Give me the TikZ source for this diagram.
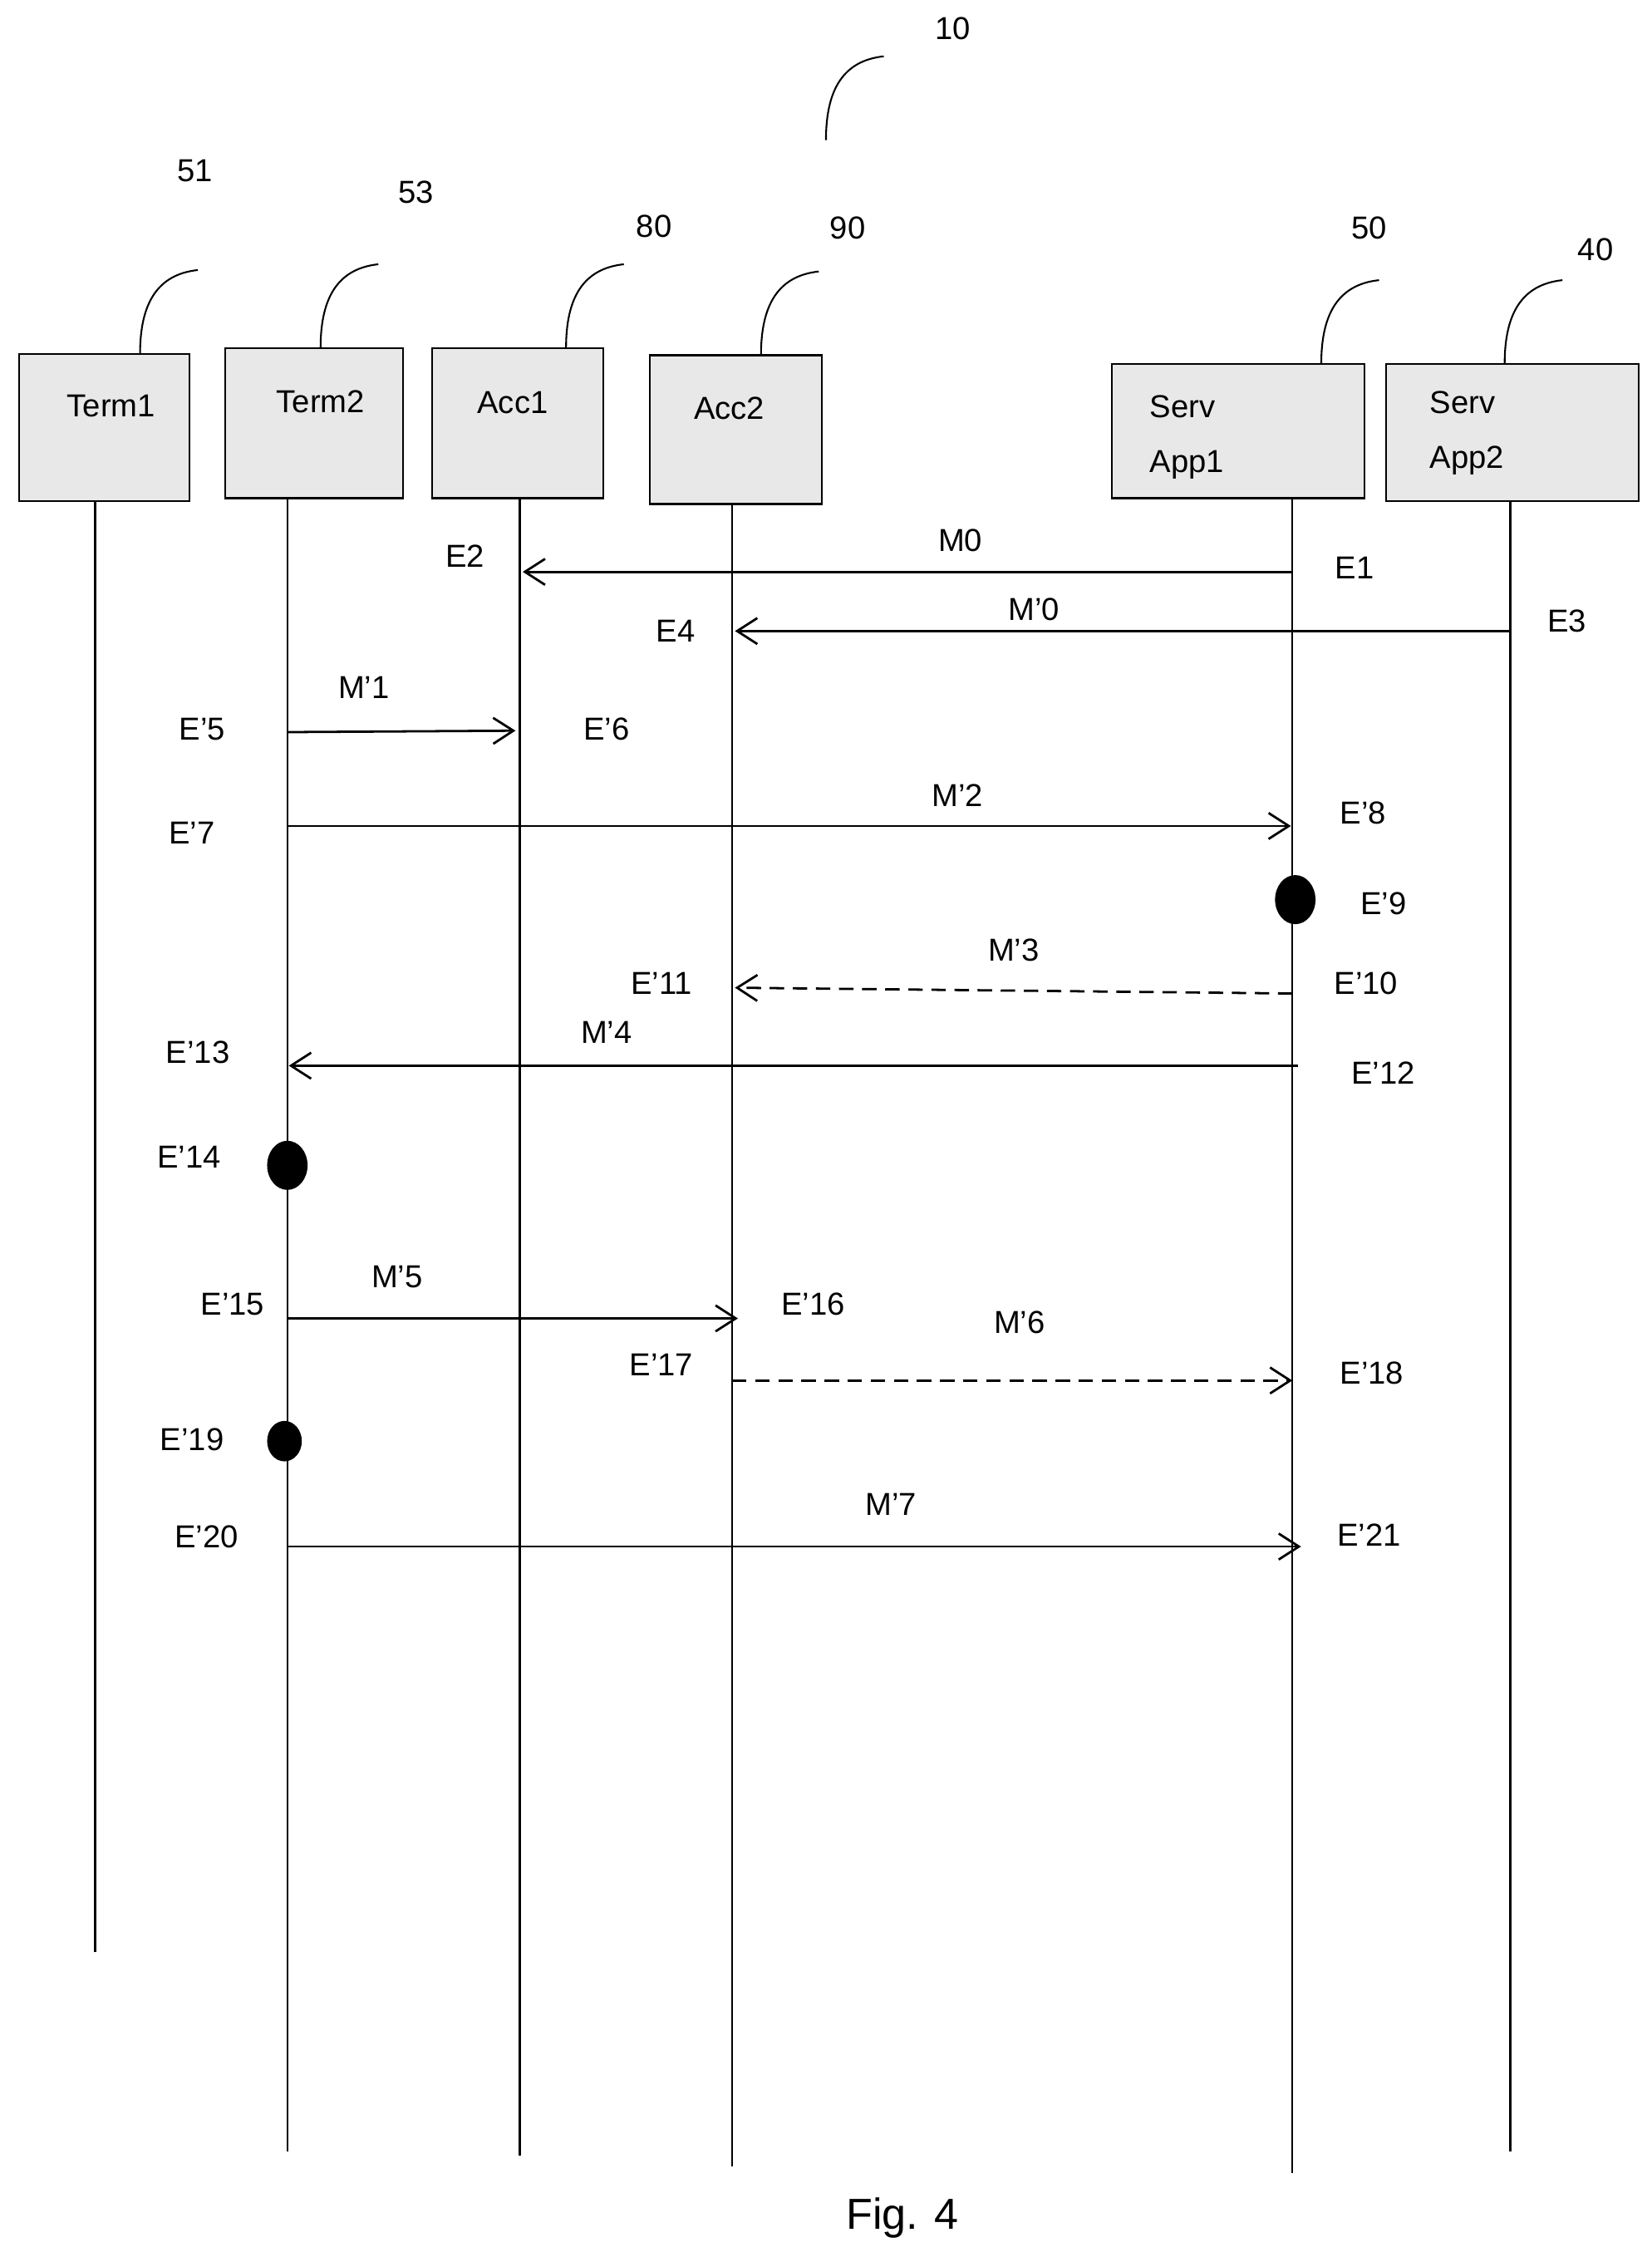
\documentclass[tikz,border=0pt]{standalone}
\usepackage{fontspec}
\setmainfont{Liberation Sans}
\usetikzlibrary{arrows.meta}
\begin{document}
\begin{tikzpicture}[x=0.5pt,y=-0.5pt,
  ent/.style={draw,fill=gray!18,line width=0.6pt},
  life/.style={line width=0.7pt},
  msg/.style={line width=0.8pt,-{Straight Barb[length=7pt,width=9pt]}},
  dmsg/.style={msg,dash pattern=on 5pt off 3pt},
  lbl/.style={font=\fontsize{11}{13}\selectfont,inner sep=0},
  lead/.style={line width=0.6pt},
  dot/.style={fill=black}]
\useasboundingbox (0,0) rectangle (1144,1563);
% boxes
\draw[ent] (13,245) rectangle (131,347); \node[lbl] (t1) at (77,281) {Term1};
\draw[ent] (156,241) rectangle (279,345); \node[lbl] (t2) at (222,278) {Term2};
\draw[ent] (299,241) rectangle (418,345); \node[lbl] (a1) at (355,279) {Acc1};
\draw[ent] (450,246) rectangle (569,349); \node[lbl] (a2) at (505,283) {Acc2};
\draw[ent] (770,252) rectangle (945,345); \node[lbl,align=left] (s1) at (822,303) {Serv\\[6pt]App1};
\draw[ent] (960,252) rectangle (1135,347); \node[lbl,align=left] (s2) at (1016,300) {Serv\\[6pt]App2};
% leaders and refs
\foreach \x/\y/\t/\lx/\ly in {97/245/51/135/118, 222/241/53/288/133, 392/241/80/453/157, 527/246/90/587/158, 915/252/50/948/158, 1042/252/40/1105/173, 572/97/10/660/20}{
  \draw[lead] (\x,\y) .. controls (\x,\y-35) and (\x+12,\y-55) .. (\x+40,\y-58);
  \node[lbl] at (\lx,\ly) {\t};
}
% lifelines
\draw[life] (66,347) -- (66,1352);
\draw[life] (199,345) -- (199,1490);
\draw[life] (360,345) -- (360,1493);
\draw[life] (507,349) -- (507,1500);
\draw[life] (895,345) -- (895,1505);
\draw[life] (1046,347) -- (1046,1490);
% messages
\coordinate (m0a) at (895,396); \coordinate (m0b) at (362,396);
\draw[msg] (m0a) -- (m0b);
\node[lbl] at (665,374) {M0}; \node[lbl] at (322,385) {E2}; \node[lbl] at (938,393) {E1};
\coordinate (m00a) at (1046,437); \coordinate (m00b) at (509,437);
\draw[msg] (m00a) -- (m00b);
\node[lbl] at (716,422) {M’0}; \node[lbl] at (468,437) {E4}; \node[lbl] at (1085,430) {E3};
\coordinate (m1a) at (199,507); \coordinate (m1b) at (357,506);
\draw[msg] (m1a) -- (m1b);
\node[lbl] at (252,476) {M’1}; \node[lbl] at (140,505) {E’5}; \node[lbl] at (420,505) {E’6};
\coordinate (m2a) at (199,572); \coordinate (m2b) at (894,572);
\draw[msg] (m2a) -- (m2b);
\node[lbl] at (663,551) {M’2}; \node[lbl] at (133,577) {E’7}; \node[lbl] at (944,563) {E’8};
\fill[dot] (897,623) ellipse [x radius=14, y radius=17];
\node[lbl] at (958,626) {E’9};
\coordinate (m3a) at (895,688); \coordinate (m3b) at (509,684);
\draw[dmsg] (m3a) -- (m3b);
\node[lbl] at (702,658) {M’3}; \node[lbl] at (458,681) {E’11}; \node[lbl] at (946,681) {E’10};
\coordinate (m4a) at (899,738); \coordinate (m4b) at (200,738);
\draw[msg] (m4a) -- (m4b);
\node[lbl] at (420,715) {M’4}; \node[lbl] at (137,729) {E’13}; \node[lbl] at (958,743) {E’12};
\fill[dot] (199,807) ellipse [x radius=14, y radius=17];
\node[lbl] at (131,801) {E’14};
\coordinate (m5a) at (199,913); \coordinate (m5b) at (511,913);
\draw[msg] (m5a) -- (m5b);
\node[lbl] at (275,884) {M’5}; \node[lbl] at (161,903) {E’15}; \node[lbl] at (563,903) {E’16};
\coordinate (m6a) at (507,956); \coordinate (m6b) at (895,956);
\draw[dmsg] (m6a) -- (m6b);
\node[lbl] at (706,916) {M’6}; \node[lbl] at (458,945) {E’17}; \node[lbl] at (950,951) {E’18};
\fill[dot] (197,998) ellipse [x radius=12, y radius=14];
\node[lbl] at (133,997) {E’19};
\coordinate (m7a) at (199,1071); \coordinate (m7b) at (901,1071);
\draw[msg] (m7a) -- (m7b);
\node[lbl] at (617,1042) {M’7}; \node[lbl] at (143,1064) {E’20}; \node[lbl] at (948,1063) {E’21};
\node[font=\fontsize{15}{17}\selectfont,inner sep=0] at (625,1536) {Fig. 4};
\end{tikzpicture}
\end{document}
